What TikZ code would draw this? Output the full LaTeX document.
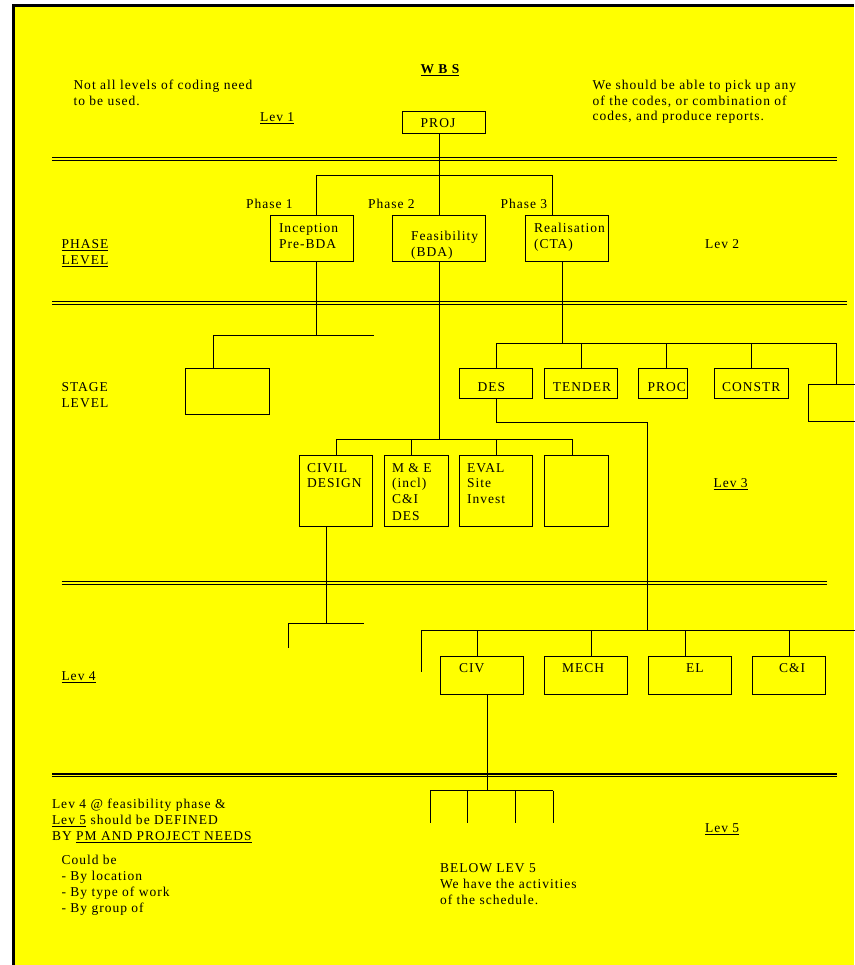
\documentclass[tikz,border=0pt]{standalone}
\usepackage{fontspec}
\setmainfont{Liberation Serif}[LetterSpace=7.5]
\definecolor{bg}{HTML}{FFFF00}
\newcommand\mybox[5]{\node[bx, minimum width={(#4-#2)*1pt}, minimum height={(#5-#3)*1pt}] (#1) at (#2,#3) {};}
\begin{document}
\begin{tikzpicture}[x=1pt,y=-1pt,
  bx/.style={draw, line width=1pt, inner sep=0pt, outer sep=0pt, rectangle, anchor=north west},
  txt/.style={anchor=base west, inner sep=0pt, outer sep=0pt, font=\fontsize{13.5}{16}\selectfont},
  ln/.style={line width=0.9pt},
  dbl/.style={line width=1.1pt}]
\useasboundingbox (0,0) rectangle (854,965);
\fill[white] (0,0) rectangle (854,965);
\fill[bg] (13.5,5.5) rectangle (854,965);
\draw[line width=2.6pt] (13.5,965) -- (13.5,5.5) -- (854,5.5);

% double separator lines
\draw[dbl] (52,157.3) -- (836.6,157.3);
\draw[dbl] (52,160.8) -- (836.6,160.8);
\draw[dbl] (52,301.7) -- (847,301.7);
\draw[dbl] (52,304.6) -- (847,304.6);
\draw[dbl] (61.5,581.7) -- (826.8,581.7);
\draw[dbl] (61.5,584.5) -- (826.8,584.5);
\draw[dbl] (52,774) -- (836.6,774);
\draw[dbl] (52,776.8) -- (836.6,776.8);

% boxes
\mybox{proj}{402.5}{112}{485}{134}
\mybox{inc}{270.7}{215.3}{353.5}{262}
\mybox{feas}{392.7}{215.3}{485.3}{262}
\mybox{real}{525.6}{215.3}{608.4}{262}
\mybox{stg0}{185.7}{368}{269}{414}
\mybox{des}{459.7}{368}{532.7}{398}
\mybox{tender}{544.7}{368}{617.6}{398}
\mybox{proc}{638.3}{368}{687.4}{398}
\mybox{constr}{714.6}{368}{788}{398}
\mybox{rbox}{808.8}{384}{880}{421.7}
\mybox{civil}{299}{455.7}{372.5}{526.3}
\mybox{me}{384}{455.7}{448}{526.3}
\mybox{eval}{459.7}{455.7}{532.7}{526.3}
\mybox{emp3}{544.7}{455.7}{608.4}{526.3}
\mybox{civ}{440}{656}{523.4}{694.3}
\mybox{mech}{544.7}{656}{627.5}{694.3}
\mybox{el}{648}{656}{731.5}{694.3}
\mybox{ci}{752}{656}{825.7}{694.3}

% connectors: PROJ -> phases
\coordinate (j0) at (439.5,175.5);
\coordinate (h1L) at (316.4,175.5);
\coordinate (h1R) at (552.8,175.5);
\draw[ln] (j0 |- proj.south) -- (j0);
\draw[ln] (h1L) -- (h1R);
\draw[ln] (h1L) -- (h1L |- inc.north);
\draw[ln] (j0) -- (j0 |- feas.north);
\draw[ln] (h1R) -- (h1R |- real.north);

% Inception -> stage
\coordinate (h2a) at (316.4,335);
\coordinate (h2L) at (213,335);
\coordinate (h2R) at (374,335);
\draw[ln] (h2a |- inc.south) -- (h2a);
\draw[ln] (h2L) -- (h2R);
\draw[ln] (h2L) -- (h2L |- stg0.north);

% Feasibility -> lev 3
\coordinate (h3) at (439.5,439);
\coordinate (h3L) at (336,439);
\coordinate (h3b) at (411.8,439);
\coordinate (h3c) at (496.7,439);
\coordinate (h3R) at (572,439);
\draw[ln] (h3 |- feas.south) -- (h3);
\draw[ln] (h3L) -- (h3R);
\draw[ln] (h3L) -- (h3L |- civil.north);
\draw[ln] (h3b) -- (h3b |- me.north);
\draw[ln] (h3c) -- (h3c |- eval.north);
\draw[ln] (h3R) -- (h3R |- emp3.north);

% Realisation -> stages
\coordinate (h4) at (562.6,343);
\coordinate (h4L) at (496.7,343);
\coordinate (h4b) at (581,343);
\coordinate (h4c) at (666,343);
\coordinate (h4d) at (751.6,343);
\coordinate (h4R) at (836.6,343);
\draw[ln] (h4 |- real.south) -- (h4);
\draw[ln] (h4L) -- (h4R);
\draw[ln] (h4L) -- (h4L |- des.north);
\draw[ln] (h4b) -- (h4b |- tender.north);
\draw[ln] (h4c) -- (h4c |- proc.north);
\draw[ln] (h4d) -- (h4d |- constr.north);
\draw[ln] (h4R) -- (h4R |- rbox.north);

% DES -> lev 4
\coordinate (d1) at (496.7,422.7);
\coordinate (d2) at (647.6,422.7);
\coordinate (d3) at (647.6,630.7);
\draw[ln] (d1 |- des.south) -- (d1) -- (d2) -- (d3);
\coordinate (h5L) at (421,630.7);
\coordinate (h5R) at (856,630.7);
\coordinate (h5e) at (421,671.7);
\coordinate (h5a) at (477.7,630.7);
\coordinate (h5b) at (591,630.7);
\coordinate (h5c) at (685.7,630.7);
\coordinate (h5d) at (789,630.7);
\draw[ln] (h5L) -- (h5R);
\draw[ln] (h5L) -- (h5e);
\draw[ln] (h5a) -- (h5a |- civ.north);
\draw[ln] (h5b) -- (h5b |- mech.north);
\draw[ln] (h5c) -- (h5c |- el.north);
\draw[ln] (h5d) -- (h5d |- ci.north);

% CIVIL DESIGN -> lev 4
\coordinate (c1) at (326,623.3);
\coordinate (c1L) at (288.7,623.3);
\coordinate (c1R) at (363.8,623.3);
\coordinate (c1e) at (288.7,647.7);
\draw[ln] (c1 |- civil.south) -- (c1);
\draw[ln] (c1L) -- (c1R);
\draw[ln] (c1L) -- (c1e);

% CIV -> lev 5
\coordinate (v1) at (487,790.7);
\coordinate (v1L) at (430.3,790.7);
\coordinate (v1b) at (467.3,790.7);
\coordinate (v1c) at (515.2,790.7);
\coordinate (v1R) at (553.4,790.7);
\draw[ln] (v1 |- civ.south) -- (v1);
\draw[ln] (v1L) -- (v1R);
\draw[ln] (v1L) -- ++(0,32.6) coordinate (v1Le);
\draw[ln] (v1b) -- ++(0,32.6) coordinate (v1be);
\draw[ln] (v1c) -- ++(0,32.6) coordinate (v1ce);
\draw[ln] (v1R) -- ++(0,32.6) coordinate (v1Re);

% texts
\node[txt, anchor=base, font=\fontsize{13.5}{16}\selectfont\bfseries] (wbs) at (440,74) {\underline{W B S}};
\node[txt] (n1) at (73.5,89.5) {Not all levels of coding need};
\node[txt] (n2) at (73.5,105.2) {to be used.};
\node[txt] (r1) at (592.6,89.5) {We should be able to pick up any};
\node[txt] (r2) at (592.6,105.2) {of the codes, or combination of};
\node[txt] (r3) at (592.6,121) {codes, and produce reports.};
\node[txt] (lev1) at (260,121.5) {\underline{Lev 1}};
\node[txt, anchor=base] (tproj) at (438,127.8) {PROJ};
\node[txt] (ph1) at (246,208.5) {Phase 1};
\node[txt] (ph2) at (368,208.5) {Phase 2};
\node[txt] (ph3) at (500.5,208.5) {Phase 3};
\node[txt] (tinc1) at (279,232.5) {Inception};
\node[txt] (tinc2) at (279,248.3) {Pre-BDA};
\node[txt] (tfea1) at (411,240.5) {Feasibility};
\node[txt] (tfea2) at (411,256.3) {(BDA)};
\node[txt] (trea1) at (534,232.5) {Realisation};
\node[txt] (trea2) at (534,248.3) {(CTA)};
\node[txt] (phl1) at (61.5,248.3) {\underline{PHASE}};
\node[txt] (phl2) at (61.5,264.3) {\underline{LEVEL}};
\node[txt] (lev2) at (705,248.3) {Lev 2};
\node[txt] (stl1) at (61.5,391.8) {STAGE};
\node[txt] (stl2) at (61.5,407.6) {LEVEL};
\node[txt] (tdes) at (477.7,391.8) {DES};
\node[txt] (tten) at (552.8,391.8) {TENDER};
\node[txt] (tproc) at (647.6,391.8) {PROC};
\node[txt] (tcon) at (722,391.8) {CONSTR};
\node[txt] (tciv1) at (307,472.2) {CIVIL};
\node[txt] (tciv2) at (307,487.8) {DESIGN};
\node[txt] (tme1) at (392,472.2) {M \& E};
\node[txt] (tme2) at (392,487.8) {(incl)};
\node[txt] (tme3) at (392,503.8) {C\&I};
\node[txt] (tme4) at (392,520) {DES};
\node[txt] (tev1) at (467,472.2) {EVAL};
\node[txt] (tev2) at (467,487.8) {Site};
\node[txt] (tev3) at (467,503.8) {Invest};
\node[txt] (lev3) at (713.5,487.8) {\underline{Lev 3}};
\node[txt] (tciv) at (459,672.2) {CIV};
\node[txt] (tmech) at (562,672.2) {MECH};
\node[txt] (tel) at (686,672.2) {EL};
\node[txt] (tci) at (779,672.2) {C\&I};
\node[txt] (lev4) at (61.5,680.5) {\underline{Lev 4}};
\node[txt] (b1) at (52,808.5) {Lev 4 @ feasibility phase \&};
\node[txt] (b2) at (52,824.5) {\underline{Lev 5} should be DEFINED};
\node[txt] (b3) at (52,840.2) {BY \underline{PM AND PROJECT NEEDS}};
\node[txt] (cb1) at (61.5,864.5) {Could be};
\node[txt] (cb2) at (61.5,880.5) {- By location};
\node[txt] (cb3) at (61.5,896.5) {- By type of work};
\node[txt] (cb4) at (61.5,912.5) {- By group of};
\node[txt] (bl1) at (440,872.2) {BELOW LEV 5};
\node[txt] (bl2) at (440,888.2) {We have the activities};
\node[txt] (bl3) at (440,904.2) {of the schedule.};
\node[txt] (lev5) at (705,832.2) {\underline{Lev 5}};
\end{tikzpicture}
\end{document}
